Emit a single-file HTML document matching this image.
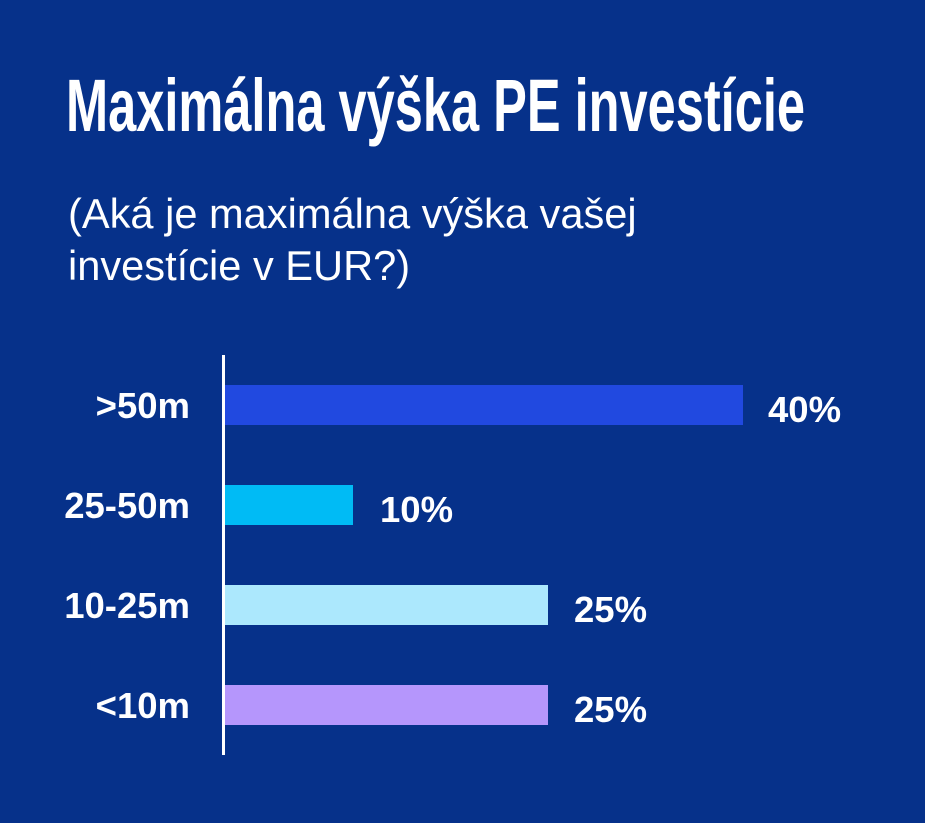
<!DOCTYPE html>
<html><head><meta charset="utf-8"><style>
html,body{margin:0;padding:0;background:#06318a;}
svg{display:block}
</style></head><body>
<svg width="925" height="823" viewBox="0 0 925 823" xmlns="http://www.w3.org/2000/svg">
<rect width="925" height="823" fill="#06318a"/>
<text x="66" y="131" font-family="Liberation Sans, sans-serif" font-weight="bold" font-size="74" fill="#fff" textLength="739" lengthAdjust="spacingAndGlyphs">Maximálna výška PE investície</text>
<g font-family="Liberation Sans, sans-serif" font-size="41.6" fill="#fff">
<text x="68" y="228">(Aká je maximálna výška vašej</text>
<text x="68" y="280">investície v EUR?)</text>
</g>
<rect x="222" y="355" width="3" height="400" fill="#fff"/>
<rect x="225" y="385" width="518" height="40" fill="#2149e0"/>
<rect x="225" y="485" width="128" height="40" fill="#00bbf5"/>
<rect x="225" y="585" width="323" height="40" fill="#ace8fd"/>
<rect x="225" y="685" width="323" height="40" fill="#b596fc"/>
<g font-family="Liberation Sans, sans-serif" font-weight="bold" font-size="36.5" fill="#fff">
<text x="190" y="418" text-anchor="end">&gt;50m</text>
<text x="190" y="518" text-anchor="end">25-50m</text>
<text x="190" y="618" text-anchor="end">10-25m</text>
<text x="190" y="718" text-anchor="end">&lt;10m</text>
<text x="768" y="422">40%</text>
<text x="380" y="522">10%</text>
<text x="574" y="622">25%</text>
<text x="574" y="722">25%</text>
</g>
</svg>
</body></html>
